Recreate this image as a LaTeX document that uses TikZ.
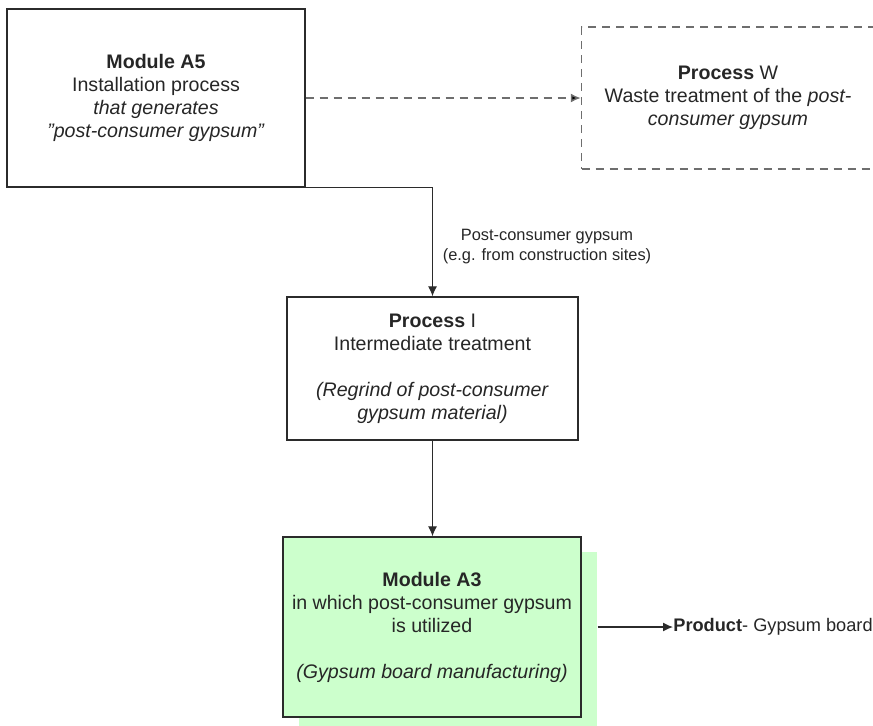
\documentclass[tikz,border=0pt]{standalone}
\usepackage{fontspec}
\setmainfont{Liberation Sans}
\usepackage{tikz}
\usetikzlibrary{arrows.meta,positioning,shadows}

\definecolor{boxline}{HTML}{2B2B2B}
\definecolor{dashline}{HTML}{6E6E6E}
\definecolor{moduleA3}{HTML}{CCFFCC}

\begin{document}
\begin{tikzpicture}[x=0.5pt,y=0.5pt,
  every node/.style={inner sep=0pt,text=black!85,font=\fontsize{9.8}{11.5}\selectfont,align=center},
  procbox/.style={draw=boxline,line width=0.65pt,rectangle},
  wastebox/.style={draw=dashline,line width=0.75pt,dash pattern=on 4pt off 3pt,rectangle},
  flow/.style={draw=boxline,line width=0.6pt,-{Latex[length=5pt,width=4.5pt]}},
  wasteflow/.style={draw=dashline,line width=0.75pt,dash pattern=on 4pt off 3pt,-{Latex[length=5pt,width=4.5pt,fill=black]}}]
\useasboundingbox (0,0) rectangle (873,-725);
\node [procbox,minimum width=149pt,minimum height=89pt] (a5) at (156,-98)
  {\textbf{Module A5}\\Installation process\\\textit{that generates}\\\textit{"post-consumer gypsum"}};
\node [wastebox,minimum width=146.5pt,minimum height=71pt] (procW) at (728,-98)
  {\textbf{Process} W\\Waste treatment of the \textit{post-}\\\textit{consumer gypsum}};
\node [procbox,minimum width=145.5pt,minimum height=71.5pt] (procI) at (432.5,-368.5)
  {\textbf{Process} I\\Intermediate treatment\\[11.5pt]\textit{(Regrind of post-consumer}\\\textit{gypsum material)}};
\node [procbox,fill=moduleA3,minimum width=149pt,minimum height=90pt,
  general shadow={fill=moduleA3,shadow xshift=8pt,shadow yshift=-7.5pt}] (a3) at (432,-627)
  {\textbf{Module A3}\\in which post-consumer gypsum\\is utilized\\[11.5pt]\textit{(Gypsum board manufacturing)}};
\node [anchor=west,font=\fontsize{9.1}{11}\selectfont] (prod) at (673,-627) {\textbf{Product}- Gypsum board};
\node [font=\fontsize{8.2}{10}\selectfont] (lbl) at (547,-247)
  {Post-consumer gypsum\\(e.g. from construction sites)};
% connectors
\draw [wasteflow] (a5.east) -- (procW.west);
\draw [flow] (a5.south east) -| (procI.north);
\draw [flow] (procI.south) -- (procI.south |- a3.north);
\draw [flow] ([xshift=8pt]a3.east) -- (prod.west);
\end{tikzpicture}
\end{document}
